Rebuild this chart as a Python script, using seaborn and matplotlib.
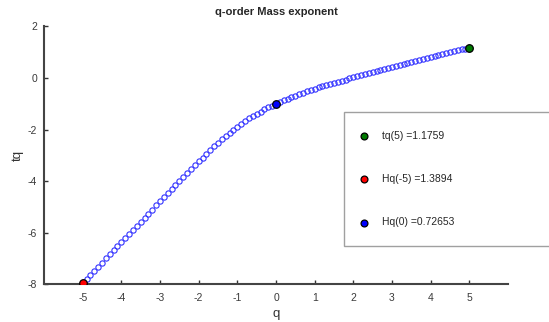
import numpy as np
import pandas as pd
import seaborn as sns
import matplotlib
matplotlib.use("Agg")
import matplotlib.pyplot as plt

# q-order and mass exponent tau(q)
q = np.round(np.arange(-5.0, 5.0001, 0.1), 1)
tq = [
    -7.947, -7.789, -7.631, -7.473, -7.315, -7.157, -6.999, -6.841, -6.683, -6.525,
    -6.367, -6.209, -6.051, -5.893, -5.735, -5.577, -5.419, -5.261, -5.103, -4.945,
    -4.787, -4.630, -4.473, -4.316, -4.159, -4.002, -3.847, -3.692, -3.539, -3.388,
    -3.237, -3.088, -2.942, -2.798, -2.656, -2.517, -2.381, -2.251, -2.125, -2.004,
    -1.887, -1.776, -1.671, -1.571, -1.477, -1.389, -1.304, -1.223, -1.145, -1.071,
    -1.000, -0.933, -0.868, -0.805, -0.744, -0.685, -0.628, -0.573, -0.520, -0.469,
    -0.420, -0.372, -0.326, -0.280, -0.236, -0.192, -0.149, -0.107, -0.065, -0.023,
    0.018, 0.059, 0.100, 0.140, 0.181, 0.221, 0.261, 0.301, 0.341, 0.380,
    0.420, 0.459, 0.498, 0.537, 0.576, 0.614, 0.653, 0.691, 0.729, 0.767,
    0.805, 0.842, 0.880, 0.917, 0.954, 0.991, 1.028, 1.064, 1.101, 1.137,
    1.1759,
]

# highlighted points
tq5 = 1.1759
hq_m5 = 1.3894
hq_0 = 0.72653

sns.set_style("ticks")
plt.rcParams["font.family"] = ["Liberation Sans", "DejaVu Sans"]
plt.rcParams["axes.unicode_minus"] = False

fig = plt.figure(figsize=(5.49, 3.22), dpi=100)
ax = fig.add_axes([44 / 549, 1 - 284.3 / 322, (508 - 44) / 549, (284.3 - 26.3) / 322])

df = pd.DataFrame({"q": q, "tq": tq})
sns.lineplot(data=df, x="q", y="tq", ax=ax, linestyle="none", marker="o",
             markersize=3.8, markerfacecolor="none", markeredgecolor="#3333ff",
             markeredgewidth=0.8, sort=False)

pts = pd.DataFrame({
    "q": [5, -5, 0],
    "tq": [tq5, -5 * hq_m5 - 1, 0 * hq_0 - 1],
    "label": [f"tq(5) ={tq5:g}", f"Hq(-5) ={hq_m5:g}", f"Hq(0) ={hq_0:g}"],
    "color": ["#007a00", "#ff0000", "#0000ff"],
})
for _, r in pts.iterrows():
    sns.scatterplot(x=[r["q"]], y=[r["tq"]], ax=ax, s=30, color=r["color"],
                    edgecolor="black", linewidth=0.9, label=r["label"], zorder=5)

ax.set_xlim(-6, 6)
ax.set_ylim(-8, 2)
ax.set_xticks(range(-5, 6))
ax.set_yticks(range(-8, 3, 2))
ax.tick_params(direction="in", length=3, width=1, colors="#333333",
               labelcolor="#3a3a3a", labelsize=7.5)
ax.tick_params(axis="x", pad=6)
ax.tick_params(axis="y", pad=5)
for side in ("top", "right"):
    ax.spines[side].set_visible(False)
for side in ("left", "bottom"):
    ax.spines[side].set_color("#444444")
    ax.spines[side].set_linewidth(1.5)

ax.set_xlabel("q", fontsize=9.5, color="#333333", labelpad=4)
ax.set_ylabel("tq", fontsize=9.5, color="#333333", labelpad=3)
ax.set_title("q-order Mass exponent", fontsize=8, fontweight="bold", pad=8)

leg = ax.legend(loc="upper left", bbox_to_anchor=(344 / 549, 0.0, 0.45, 1 - 112 / 322),
                bbox_transform=fig.transFigure, mode="expand", borderaxespad=0,
                fontsize=7.5, frameon=True, fancybox=False, borderpad=1.8,
                labelspacing=3.2, handlelength=0.3, handletextpad=1.5,
                markerscale=0.9)
leg.get_frame().set_edgecolor("#888888")
leg.get_frame().set_linewidth(1.0)

fig.savefig("out.png", dpi=100)
